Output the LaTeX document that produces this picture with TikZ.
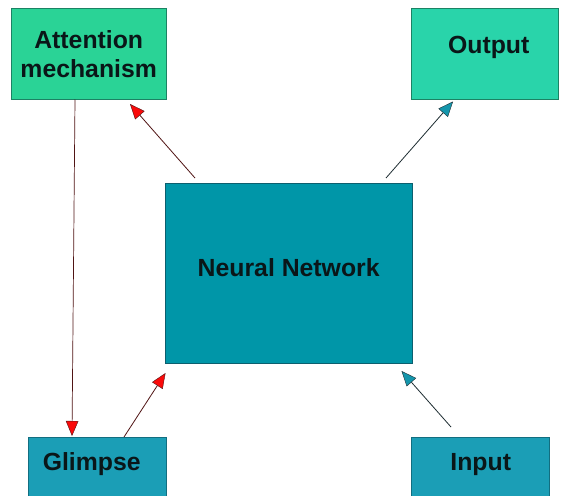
\documentclass[tikz,border=0pt]{standalone}
\usepackage{fontspec}
\setmainfont{Liberation Sans}
\usetikzlibrary{arrows.meta}

\definecolor{attfill}{RGB}{42,211,150}
\definecolor{outfill}{RGB}{41,212,170}
\definecolor{greenedge}{RGB}{28,130,100}
\definecolor{nnfill}{RGB}{0,150,168}
\definecolor{nnedge}{RGB}{12,95,110}
\definecolor{iofill}{RGB}{27,158,182}
\definecolor{ioedge}{RGB}{18,110,128}
\definecolor{txt}{RGB}{10,22,24}
\definecolor{redtip}{RGB}{250,10,10}
\definecolor{tealtip}{RGB}{20,150,172}
\definecolor{redline}{RGB}{80,20,20}
\definecolor{darkline}{RGB}{30,45,50}

\tikzset{
  box/.style={draw, line width=0.9pt, inner sep=0pt, rectangle},
  lbl/.style={text=txt, font=\fontsize{24.8}{29}\selectfont\bfseries, align=center, inner sep=0pt},
  redarrow/.style={draw=redline, line width=0.8pt,
    -{Triangle[length=15pt,width=12.5pt,fill=redtip,line width=0.4pt]}},
  tealarrow/.style={draw=darkline, line width=0.8pt,
    -{Triangle[length=15pt,width=12.5pt,fill=tealtip,line width=0.4pt]}},
}

\begin{document}
\begin{tikzpicture}[x=1pt,y=-1pt]
  \useasboundingbox (0,0) rectangle (564,495);
  \clip (0,0) rectangle (564,495);
  \fill[white] (0,0) rectangle (564,495);

  % boxes
  \node[box, draw=greenedge, fill=attfill, minimum width=155pt, minimum height=91pt] (att) at (88.5,53.5) {};
  \node[box, draw=greenedge, fill=outfill, minimum width=147pt, minimum height=91pt] (out) at (484.5,53.5) {};
  \node[box, draw=nnedge, fill=nnfill, minimum width=247pt, minimum height=180pt] (nn) at (288.5,273.2) {};
  \node[box, draw=ioedge, fill=iofill, minimum width=138pt, minimum height=70pt] (glimpse) at (97,472) {};
  \node[box, draw=ioedge, fill=iofill, minimum width=138pt, minimum height=70pt] (input) at (480,472) {};

  % labels, placed by their baselines
  \node[lbl] (atttxt) at (88.7,54) {Attention\\mechanism};
  \node[lbl, anchor=base] (outtxt) at (488.7,53) {Output};
  \node[lbl, anchor=base] (nntxt) at (288.7,276) {Neural Network};
  \node[lbl, anchor=base] (glimpsetxt) at (91.7,470) {Glimpse};
  \node[lbl, anchor=base] (inputtxt) at (480.7,470) {Input};

  % connector end points
  \coordinate (nnTL) at (195,178);
  \coordinate (attIn) at (130,104);
  \coordinate (nnTR) at (386,178);
  \coordinate (outIn) at (453,101.5);
  \coordinate (attOut) at (75,99.5);
  \coordinate (glimpseIn) at (72,436);
  \coordinate (glimpseOut) at (124,437);
  \coordinate (nnInL) at (165.5,373);
  \coordinate (inputOut) at (451,427);
  \coordinate (nnInR) at (401.5,371);

  % connectors
  \draw[redarrow] (nnTL) -- (attIn);
  \draw[tealarrow] (nnTR) -- (outIn);
  \draw[redarrow, line width=0.7pt] (attOut) -- (glimpseIn);
  \draw[redarrow] (glimpseOut) -- (nnInL);
  \draw[tealarrow] (inputOut) -- (nnInR);
\end{tikzpicture}
\end{document}
